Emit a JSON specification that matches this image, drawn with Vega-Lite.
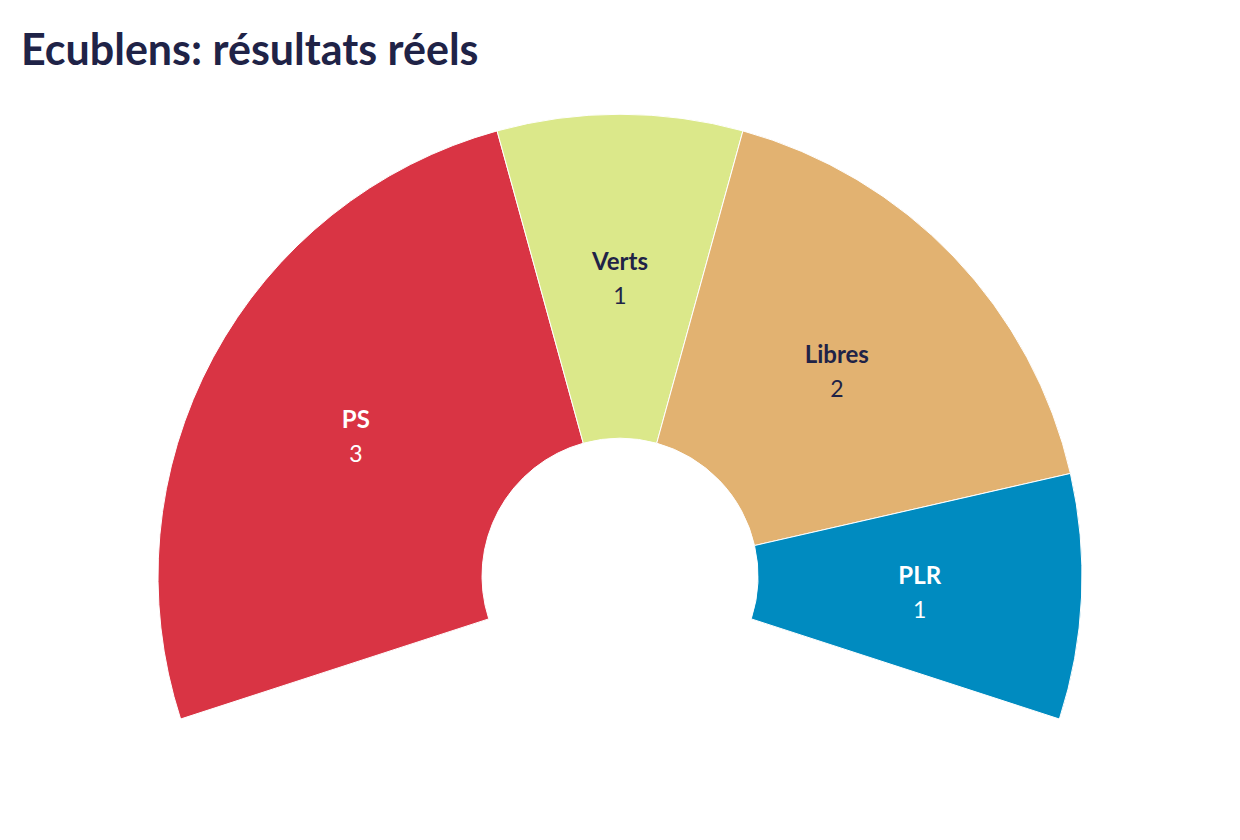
{
  "$schema": "https://vega.github.io/schema/vega-lite/v6.json",
  "autosize": "none",
  "padding": 0,
  "width": 1240,
  "height": 840,
  "background": "white",
  "title": {
    "text": "Ecublens: résultats réels",
    "anchor": "start",
    "frame": "group",
    "orient": "top",
    "offset": 0,
    "dx": 21,
    "dy": 74,
    "font": "Lato",
    "fontSize": 43,
    "fontWeight": "bold",
    "color": "#1f2347"
  },
  "data": {
    "values": [
      {"parti": "PS", "sieges": 3, "ordre": 1},
      {"parti": "Verts", "sieges": 1, "ordre": 2},
      {"parti": "Libres", "sieges": 2, "ordre": 3},
      {"parti": "PLR", "sieges": 1, "ordre": 4}
    ]
  },
  "encoding": {
    "theta": {"field": "sieges", "type": "quantitative", "stack": true, "scale": {"range": [-1.885, 1.885]}},
    "order": {"field": "ordre", "type": "quantitative"}
  },
  "view": {"stroke": null},
  "layer": [
    {
      "mark": {"type": "arc", "innerRadius": 138, "outerRadius": 462, "stroke": "white", "strokeWidth": 1, "x": {"expr": "width/2"}, "y": {"expr": "height*0.686"}},
      "encoding": {
        "color": {
          "field": "parti", "type": "nominal", "legend": null,
          "scale": {"domain": ["PS", "Verts", "Libres", "PLR"], "range": ["#d93444", "#dbe88a", "#e2b271", "#008bc0"]}
        }
      }
    },
    {
      "mark": {"type": "text", "radius": 300, "dy": -13, "font": "Lato", "fontSize": 24, "fontWeight": "bold", "x": {"expr": "width/2"}, "y": {"expr": "height*0.686"}},
      "encoding": {
        "text": {"field": "parti"},
        "color": {"condition": {"test": "datum.parti === 'PS' || datum.parti === 'PLR'", "value": "white"}, "value": "#1f2347"}
      }
    },
    {
      "mark": {"type": "text", "radius": 300, "dy": 21, "font": "Lato", "fontSize": 23, "x": {"expr": "width/2"}, "y": {"expr": "height*0.686"}},
      "encoding": {
        "text": {"field": "sieges"},
        "color": {"condition": {"test": "datum.parti === 'PS' || datum.parti === 'PLR'", "value": "white"}, "value": "#1f2347"}
      }
    }
  ]
}
